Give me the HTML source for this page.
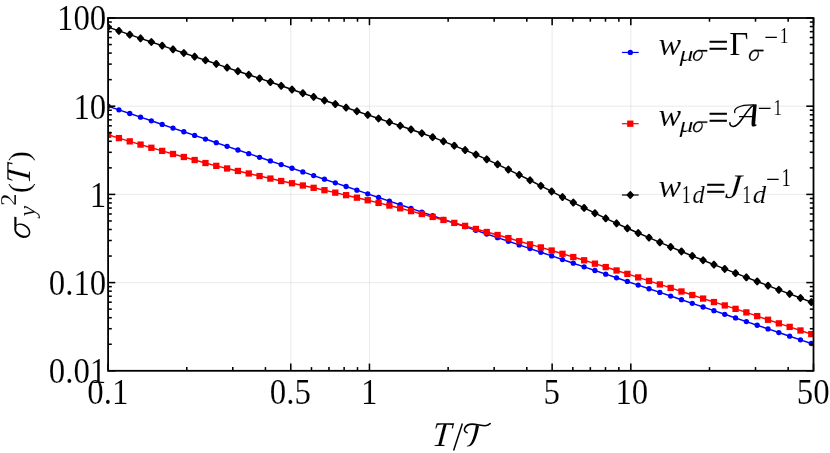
<!DOCTYPE html>
<html><head><meta charset="utf-8"><title>plot</title>
<style>html,body{margin:0;padding:0;background:#fff;}svg{display:block;}text{font-family:"Liberation Serif",serif;fill:#000;stroke:#fff;stroke-width:0.12px;}</style></head><body>
<svg width="830" height="453" viewBox="0 0 830 453" style="will-change:transform">
<defs><clipPath id="c"><rect x="108.1" y="18" width="705.4" height="352.8"/></clipPath></defs>
<g stroke="#808080" stroke-opacity="0.225" stroke-width="0.75" fill="none">
<line x1="290.78" y1="18" x2="290.78" y2="370.8"/>
<line x1="369.46" y1="18" x2="369.46" y2="370.8"/>
<line x1="552.14" y1="18" x2="552.14" y2="370.8"/>
<line x1="630.82" y1="18" x2="630.82" y2="370.8"/>
<line x1="108.1" y1="106.2" x2="813.5" y2="106.2"/>
<line x1="108.1" y1="194.4" x2="813.5" y2="194.4"/>
<line x1="108.1" y1="282.6" x2="813.5" y2="282.6"/>
</g>
<g clip-path="url(#c)"><polyline points="108.1,106.2 118.92,109.85 129.74,113.5 140.56,117.15 151.37,120.8 162.19,124.45 173.01,128.11 183.83,131.76 194.65,135.41 205.47,139.06 216.28,142.71 227.1,146.36 237.92,150.01 248.74,153.66 259.56,157.31 270.38,160.96 281.19,164.61 292.01,168.26 302.83,171.92 313.65,175.57 324.47,179.22 335.29,182.87 346.1,186.52 356.92,190.17 367.74,193.82 378.56,197.47 389.38,201.12 400.2,204.77 411.01,208.42 421.83,212.07 432.65,215.73 443.47,219.38 454.29,223.03 465.11,226.68 475.92,230.33 486.74,233.98 497.56,237.63 508.38,241.28 519.2,244.93 530.02,248.58 540.83,252.23 551.65,255.88 562.47,259.54 573.29,263.19 584.11,266.84 594.93,270.49 605.74,274.14 616.56,277.79 627.38,281.44 638.2,285.09 649.02,288.74 659.84,292.39 670.65,296.04 681.47,299.69 692.29,303.35 703.11,307 713.93,310.65 724.75,314.3 735.56,317.95 746.38,321.6 757.2,325.25 768.02,328.9 778.84,332.55 789.66,336.2 800.47,339.85 811.29,343.5" fill="none" stroke="#0000ff" stroke-width="1.45"/>
<circle cx="108.1" cy="106.2" r="2.65" fill="#0000ff"/>
<circle cx="118.92" cy="109.85" r="2.65" fill="#0000ff"/>
<circle cx="129.74" cy="113.5" r="2.65" fill="#0000ff"/>
<circle cx="140.56" cy="117.15" r="2.65" fill="#0000ff"/>
<circle cx="151.37" cy="120.8" r="2.65" fill="#0000ff"/>
<circle cx="162.19" cy="124.45" r="2.65" fill="#0000ff"/>
<circle cx="173.01" cy="128.11" r="2.65" fill="#0000ff"/>
<circle cx="183.83" cy="131.76" r="2.65" fill="#0000ff"/>
<circle cx="194.65" cy="135.41" r="2.65" fill="#0000ff"/>
<circle cx="205.47" cy="139.06" r="2.65" fill="#0000ff"/>
<circle cx="216.28" cy="142.71" r="2.65" fill="#0000ff"/>
<circle cx="227.1" cy="146.36" r="2.65" fill="#0000ff"/>
<circle cx="237.92" cy="150.01" r="2.65" fill="#0000ff"/>
<circle cx="248.74" cy="153.66" r="2.65" fill="#0000ff"/>
<circle cx="259.56" cy="157.31" r="2.65" fill="#0000ff"/>
<circle cx="270.38" cy="160.96" r="2.65" fill="#0000ff"/>
<circle cx="281.19" cy="164.61" r="2.65" fill="#0000ff"/>
<circle cx="292.01" cy="168.26" r="2.65" fill="#0000ff"/>
<circle cx="302.83" cy="171.92" r="2.65" fill="#0000ff"/>
<circle cx="313.65" cy="175.57" r="2.65" fill="#0000ff"/>
<circle cx="324.47" cy="179.22" r="2.65" fill="#0000ff"/>
<circle cx="335.29" cy="182.87" r="2.65" fill="#0000ff"/>
<circle cx="346.1" cy="186.52" r="2.65" fill="#0000ff"/>
<circle cx="356.92" cy="190.17" r="2.65" fill="#0000ff"/>
<circle cx="367.74" cy="193.82" r="2.65" fill="#0000ff"/>
<circle cx="378.56" cy="197.47" r="2.65" fill="#0000ff"/>
<circle cx="389.38" cy="201.12" r="2.65" fill="#0000ff"/>
<circle cx="400.2" cy="204.77" r="2.65" fill="#0000ff"/>
<circle cx="411.01" cy="208.42" r="2.65" fill="#0000ff"/>
<circle cx="421.83" cy="212.07" r="2.65" fill="#0000ff"/>
<circle cx="432.65" cy="215.73" r="2.65" fill="#0000ff"/>
<circle cx="443.47" cy="219.38" r="2.65" fill="#0000ff"/>
<circle cx="454.29" cy="223.03" r="2.65" fill="#0000ff"/>
<circle cx="465.11" cy="226.68" r="2.65" fill="#0000ff"/>
<circle cx="475.92" cy="230.33" r="2.65" fill="#0000ff"/>
<circle cx="486.74" cy="233.98" r="2.65" fill="#0000ff"/>
<circle cx="497.56" cy="237.63" r="2.65" fill="#0000ff"/>
<circle cx="508.38" cy="241.28" r="2.65" fill="#0000ff"/>
<circle cx="519.2" cy="244.93" r="2.65" fill="#0000ff"/>
<circle cx="530.02" cy="248.58" r="2.65" fill="#0000ff"/>
<circle cx="540.83" cy="252.23" r="2.65" fill="#0000ff"/>
<circle cx="551.65" cy="255.88" r="2.65" fill="#0000ff"/>
<circle cx="562.47" cy="259.54" r="2.65" fill="#0000ff"/>
<circle cx="573.29" cy="263.19" r="2.65" fill="#0000ff"/>
<circle cx="584.11" cy="266.84" r="2.65" fill="#0000ff"/>
<circle cx="594.93" cy="270.49" r="2.65" fill="#0000ff"/>
<circle cx="605.74" cy="274.14" r="2.65" fill="#0000ff"/>
<circle cx="616.56" cy="277.79" r="2.65" fill="#0000ff"/>
<circle cx="627.38" cy="281.44" r="2.65" fill="#0000ff"/>
<circle cx="638.2" cy="285.09" r="2.65" fill="#0000ff"/>
<circle cx="649.02" cy="288.74" r="2.65" fill="#0000ff"/>
<circle cx="659.84" cy="292.39" r="2.65" fill="#0000ff"/>
<circle cx="670.65" cy="296.04" r="2.65" fill="#0000ff"/>
<circle cx="681.47" cy="299.69" r="2.65" fill="#0000ff"/>
<circle cx="692.29" cy="303.35" r="2.65" fill="#0000ff"/>
<circle cx="703.11" cy="307" r="2.65" fill="#0000ff"/>
<circle cx="713.93" cy="310.65" r="2.65" fill="#0000ff"/>
<circle cx="724.75" cy="314.3" r="2.65" fill="#0000ff"/>
<circle cx="735.56" cy="317.95" r="2.65" fill="#0000ff"/>
<circle cx="746.38" cy="321.6" r="2.65" fill="#0000ff"/>
<circle cx="757.2" cy="325.25" r="2.65" fill="#0000ff"/>
<circle cx="768.02" cy="328.9" r="2.65" fill="#0000ff"/>
<circle cx="778.84" cy="332.55" r="2.65" fill="#0000ff"/>
<circle cx="789.66" cy="336.2" r="2.65" fill="#0000ff"/>
<circle cx="800.47" cy="339.85" r="2.65" fill="#0000ff"/>
<circle cx="811.29" cy="343.5" r="2.65" fill="#0000ff"/>
</g>
<g clip-path="url(#c)"><polyline points="108.1,134.8 118.92,138.1 129.74,141.38 140.56,144.6 151.37,147.78 162.19,150.9 173.01,153.97 183.83,157 194.65,160.03 205.47,163.03 216.28,165.85 227.1,168.45 237.92,170.95 248.74,173.47 259.56,176.03 270.38,178.58 281.19,181 292.01,183.25 302.83,185.5 313.65,187.82 324.47,190.2 335.29,192.65 346.1,195.18 356.92,197.67 367.74,200.22 378.56,202.9 389.38,205.55 400.2,208.27 411.01,211.12 421.83,214 432.65,216.97 443.47,219.97 454.29,222.9 465.11,225.88 475.92,228.95 486.74,232 497.56,235.01 508.38,238.07 519.2,241.21 530.02,244.35 540.83,247.4 551.65,250.53 562.47,253.8 573.29,257.05 584.11,260.3 594.93,263.65 605.74,267.06 616.56,270.48 627.38,273.89 638.2,277.38 649.02,280.92 659.84,284.42 670.65,287.92 681.47,291.48 692.29,295.02 703.11,298.58 713.93,302.05 724.75,305.43 735.56,308.85 746.38,312.42 757.2,316.1 768.02,319.77 778.84,323.35 789.66,326.88 800.47,330.48 811.29,334.1" fill="none" stroke="#ff0000" stroke-width="1.45"/>
<rect x="104.95" y="131.65" width="6.3" height="6.3" fill="#ff0000"/>
<rect x="115.77" y="134.95" width="6.3" height="6.3" fill="#ff0000"/>
<rect x="126.59" y="138.22" width="6.3" height="6.3" fill="#ff0000"/>
<rect x="137.41" y="141.45" width="6.3" height="6.3" fill="#ff0000"/>
<rect x="148.22" y="144.62" width="6.3" height="6.3" fill="#ff0000"/>
<rect x="159.04" y="147.75" width="6.3" height="6.3" fill="#ff0000"/>
<rect x="169.86" y="150.82" width="6.3" height="6.3" fill="#ff0000"/>
<rect x="180.68" y="153.85" width="6.3" height="6.3" fill="#ff0000"/>
<rect x="191.5" y="156.88" width="6.3" height="6.3" fill="#ff0000"/>
<rect x="202.32" y="159.88" width="6.3" height="6.3" fill="#ff0000"/>
<rect x="213.13" y="162.7" width="6.3" height="6.3" fill="#ff0000"/>
<rect x="223.95" y="165.3" width="6.3" height="6.3" fill="#ff0000"/>
<rect x="234.77" y="167.8" width="6.3" height="6.3" fill="#ff0000"/>
<rect x="245.59" y="170.32" width="6.3" height="6.3" fill="#ff0000"/>
<rect x="256.41" y="172.88" width="6.3" height="6.3" fill="#ff0000"/>
<rect x="267.23" y="175.43" width="6.3" height="6.3" fill="#ff0000"/>
<rect x="278.04" y="177.85" width="6.3" height="6.3" fill="#ff0000"/>
<rect x="288.86" y="180.1" width="6.3" height="6.3" fill="#ff0000"/>
<rect x="299.68" y="182.35" width="6.3" height="6.3" fill="#ff0000"/>
<rect x="310.5" y="184.67" width="6.3" height="6.3" fill="#ff0000"/>
<rect x="321.32" y="187.05" width="6.3" height="6.3" fill="#ff0000"/>
<rect x="332.14" y="189.5" width="6.3" height="6.3" fill="#ff0000"/>
<rect x="342.95" y="192.03" width="6.3" height="6.3" fill="#ff0000"/>
<rect x="353.77" y="194.52" width="6.3" height="6.3" fill="#ff0000"/>
<rect x="364.59" y="197.07" width="6.3" height="6.3" fill="#ff0000"/>
<rect x="375.41" y="199.75" width="6.3" height="6.3" fill="#ff0000"/>
<rect x="386.23" y="202.4" width="6.3" height="6.3" fill="#ff0000"/>
<rect x="397.05" y="205.12" width="6.3" height="6.3" fill="#ff0000"/>
<rect x="407.86" y="207.97" width="6.3" height="6.3" fill="#ff0000"/>
<rect x="418.68" y="210.85" width="6.3" height="6.3" fill="#ff0000"/>
<rect x="429.5" y="213.82" width="6.3" height="6.3" fill="#ff0000"/>
<rect x="440.32" y="216.82" width="6.3" height="6.3" fill="#ff0000"/>
<rect x="451.14" y="219.75" width="6.3" height="6.3" fill="#ff0000"/>
<rect x="461.96" y="222.72" width="6.3" height="6.3" fill="#ff0000"/>
<rect x="472.77" y="225.8" width="6.3" height="6.3" fill="#ff0000"/>
<rect x="483.59" y="228.85" width="6.3" height="6.3" fill="#ff0000"/>
<rect x="494.41" y="231.86" width="6.3" height="6.3" fill="#ff0000"/>
<rect x="505.23" y="234.92" width="6.3" height="6.3" fill="#ff0000"/>
<rect x="516.05" y="238.06" width="6.3" height="6.3" fill="#ff0000"/>
<rect x="526.87" y="241.2" width="6.3" height="6.3" fill="#ff0000"/>
<rect x="537.68" y="244.25" width="6.3" height="6.3" fill="#ff0000"/>
<rect x="548.5" y="247.38" width="6.3" height="6.3" fill="#ff0000"/>
<rect x="559.32" y="250.65" width="6.3" height="6.3" fill="#ff0000"/>
<rect x="570.14" y="253.9" width="6.3" height="6.3" fill="#ff0000"/>
<rect x="580.96" y="257.15" width="6.3" height="6.3" fill="#ff0000"/>
<rect x="591.78" y="260.5" width="6.3" height="6.3" fill="#ff0000"/>
<rect x="602.59" y="263.91" width="6.3" height="6.3" fill="#ff0000"/>
<rect x="613.41" y="267.33" width="6.3" height="6.3" fill="#ff0000"/>
<rect x="624.23" y="270.74" width="6.3" height="6.3" fill="#ff0000"/>
<rect x="635.05" y="274.23" width="6.3" height="6.3" fill="#ff0000"/>
<rect x="645.87" y="277.77" width="6.3" height="6.3" fill="#ff0000"/>
<rect x="656.69" y="281.27" width="6.3" height="6.3" fill="#ff0000"/>
<rect x="667.5" y="284.77" width="6.3" height="6.3" fill="#ff0000"/>
<rect x="678.32" y="288.33" width="6.3" height="6.3" fill="#ff0000"/>
<rect x="689.14" y="291.88" width="6.3" height="6.3" fill="#ff0000"/>
<rect x="699.96" y="295.43" width="6.3" height="6.3" fill="#ff0000"/>
<rect x="710.78" y="298.9" width="6.3" height="6.3" fill="#ff0000"/>
<rect x="721.6" y="302.28" width="6.3" height="6.3" fill="#ff0000"/>
<rect x="732.41" y="305.7" width="6.3" height="6.3" fill="#ff0000"/>
<rect x="743.23" y="309.27" width="6.3" height="6.3" fill="#ff0000"/>
<rect x="754.05" y="312.95" width="6.3" height="6.3" fill="#ff0000"/>
<rect x="764.87" y="316.62" width="6.3" height="6.3" fill="#ff0000"/>
<rect x="775.69" y="320.2" width="6.3" height="6.3" fill="#ff0000"/>
<rect x="786.51" y="323.73" width="6.3" height="6.3" fill="#ff0000"/>
<rect x="797.32" y="327.33" width="6.3" height="6.3" fill="#ff0000"/>
<rect x="808.14" y="330.95" width="6.3" height="6.3" fill="#ff0000"/>
</g>
<g clip-path="url(#c)"><polyline points="108.1,27.1 118.92,30.9 129.74,34.68 140.56,38.38 151.37,42 162.19,45.65 173.01,49.35 183.83,53 194.65,56.62 205.47,60.27 216.28,63.92 227.1,67.58 237.92,71.2 248.74,74.8 259.56,78.4 270.38,82.05 281.19,85.8 292.01,89.55 302.83,93.22 313.65,96.88 324.47,100.47 335.29,104.03 346.1,107.61 356.92,111.25 367.74,114.89 378.56,118.5 389.38,122.1 400.2,125.75 411.01,129.47 421.83,133.25 432.65,137.18 443.47,141.35 454.29,145.68 465.11,150.05 475.92,154.57 486.74,159.32 497.56,164.3 508.38,169.53 519.2,174.88 530.02,180.27 540.83,185.82 551.65,191.47 562.47,197.05 573.29,202.53 584.11,207.93 594.93,213.2 605.74,218.35 616.56,223.38 627.38,228.28 638.2,233.03 649.02,237.65 659.84,242.3 670.65,246.95 681.47,251.47 692.29,255.9 703.11,260.27 713.93,264.62 724.75,268.95 735.56,273.19 746.38,277.34 757.2,281.46 768.02,285.64 778.84,289.82 789.66,293.92 800.47,298 811.29,302.1" fill="none" stroke="#000000" stroke-width="1.45"/>
<path d="M105.5 27.1L108.1 24.2L110.7 27.1L108.1 30Z" fill="#000000" stroke="#000000" stroke-width="2.1" stroke-linejoin="round"/>
<path d="M116.32 30.9L118.92 28L121.52 30.9L118.92 33.8Z" fill="#000000" stroke="#000000" stroke-width="2.1" stroke-linejoin="round"/>
<path d="M127.14 34.68L129.74 31.78L132.34 34.68L129.74 37.58Z" fill="#000000" stroke="#000000" stroke-width="2.1" stroke-linejoin="round"/>
<path d="M137.96 38.38L140.56 35.48L143.16 38.38L140.56 41.27Z" fill="#000000" stroke="#000000" stroke-width="2.1" stroke-linejoin="round"/>
<path d="M148.77 42L151.37 39.1L153.97 42L151.37 44.9Z" fill="#000000" stroke="#000000" stroke-width="2.1" stroke-linejoin="round"/>
<path d="M159.59 45.65L162.19 42.75L164.79 45.65L162.19 48.55Z" fill="#000000" stroke="#000000" stroke-width="2.1" stroke-linejoin="round"/>
<path d="M170.41 49.35L173.01 46.45L175.61 49.35L173.01 52.25Z" fill="#000000" stroke="#000000" stroke-width="2.1" stroke-linejoin="round"/>
<path d="M181.23 53L183.83 50.1L186.43 53L183.83 55.9Z" fill="#000000" stroke="#000000" stroke-width="2.1" stroke-linejoin="round"/>
<path d="M192.05 56.62L194.65 53.73L197.25 56.62L194.65 59.52Z" fill="#000000" stroke="#000000" stroke-width="2.1" stroke-linejoin="round"/>
<path d="M202.87 60.27L205.47 57.38L208.07 60.27L205.47 63.17Z" fill="#000000" stroke="#000000" stroke-width="2.1" stroke-linejoin="round"/>
<path d="M213.68 63.92L216.28 61.02L218.88 63.92L216.28 66.83Z" fill="#000000" stroke="#000000" stroke-width="2.1" stroke-linejoin="round"/>
<path d="M224.5 67.58L227.1 64.67L229.7 67.58L227.1 70.48Z" fill="#000000" stroke="#000000" stroke-width="2.1" stroke-linejoin="round"/>
<path d="M235.32 71.2L237.92 68.3L240.52 71.2L237.92 74.1Z" fill="#000000" stroke="#000000" stroke-width="2.1" stroke-linejoin="round"/>
<path d="M246.14 74.8L248.74 71.9L251.34 74.8L248.74 77.7Z" fill="#000000" stroke="#000000" stroke-width="2.1" stroke-linejoin="round"/>
<path d="M256.96 78.4L259.56 75.5L262.16 78.4L259.56 81.3Z" fill="#000000" stroke="#000000" stroke-width="2.1" stroke-linejoin="round"/>
<path d="M267.78 82.05L270.38 79.15L272.98 82.05L270.38 84.95Z" fill="#000000" stroke="#000000" stroke-width="2.1" stroke-linejoin="round"/>
<path d="M278.59 85.8L281.19 82.9L283.79 85.8L281.19 88.7Z" fill="#000000" stroke="#000000" stroke-width="2.1" stroke-linejoin="round"/>
<path d="M289.41 89.55L292.01 86.65L294.61 89.55L292.01 92.45Z" fill="#000000" stroke="#000000" stroke-width="2.1" stroke-linejoin="round"/>
<path d="M300.23 93.22L302.83 90.32L305.43 93.22L302.83 96.12Z" fill="#000000" stroke="#000000" stroke-width="2.1" stroke-linejoin="round"/>
<path d="M311.05 96.88L313.65 93.97L316.25 96.88L313.65 99.78Z" fill="#000000" stroke="#000000" stroke-width="2.1" stroke-linejoin="round"/>
<path d="M321.87 100.47L324.47 97.57L327.07 100.47L324.47 103.38Z" fill="#000000" stroke="#000000" stroke-width="2.1" stroke-linejoin="round"/>
<path d="M332.69 104.03L335.29 101.12L337.89 104.03L335.29 106.93Z" fill="#000000" stroke="#000000" stroke-width="2.1" stroke-linejoin="round"/>
<path d="M343.5 107.61L346.1 104.71L348.7 107.61L346.1 110.51Z" fill="#000000" stroke="#000000" stroke-width="2.1" stroke-linejoin="round"/>
<path d="M354.32 111.25L356.92 108.35L359.52 111.25L356.92 114.15Z" fill="#000000" stroke="#000000" stroke-width="2.1" stroke-linejoin="round"/>
<path d="M365.14 114.89L367.74 111.99L370.34 114.89L367.74 117.79Z" fill="#000000" stroke="#000000" stroke-width="2.1" stroke-linejoin="round"/>
<path d="M375.96 118.5L378.56 115.6L381.16 118.5L378.56 121.4Z" fill="#000000" stroke="#000000" stroke-width="2.1" stroke-linejoin="round"/>
<path d="M386.78 122.1L389.38 119.2L391.98 122.1L389.38 125Z" fill="#000000" stroke="#000000" stroke-width="2.1" stroke-linejoin="round"/>
<path d="M397.6 125.75L400.2 122.85L402.8 125.75L400.2 128.65Z" fill="#000000" stroke="#000000" stroke-width="2.1" stroke-linejoin="round"/>
<path d="M408.41 129.47L411.01 126.57L413.61 129.47L411.01 132.38Z" fill="#000000" stroke="#000000" stroke-width="2.1" stroke-linejoin="round"/>
<path d="M419.23 133.25L421.83 130.35L424.43 133.25L421.83 136.15Z" fill="#000000" stroke="#000000" stroke-width="2.1" stroke-linejoin="round"/>
<path d="M430.05 137.18L432.65 134.28L435.25 137.18L432.65 140.08Z" fill="#000000" stroke="#000000" stroke-width="2.1" stroke-linejoin="round"/>
<path d="M440.87 141.35L443.47 138.45L446.07 141.35L443.47 144.25Z" fill="#000000" stroke="#000000" stroke-width="2.1" stroke-linejoin="round"/>
<path d="M451.69 145.68L454.29 142.78L456.89 145.68L454.29 148.58Z" fill="#000000" stroke="#000000" stroke-width="2.1" stroke-linejoin="round"/>
<path d="M462.51 150.05L465.11 147.15L467.71 150.05L465.11 152.95Z" fill="#000000" stroke="#000000" stroke-width="2.1" stroke-linejoin="round"/>
<path d="M473.32 154.57L475.92 151.67L478.52 154.57L475.92 157.47Z" fill="#000000" stroke="#000000" stroke-width="2.1" stroke-linejoin="round"/>
<path d="M484.14 159.32L486.74 156.42L489.34 159.32L486.74 162.22Z" fill="#000000" stroke="#000000" stroke-width="2.1" stroke-linejoin="round"/>
<path d="M494.96 164.3L497.56 161.4L500.16 164.3L497.56 167.2Z" fill="#000000" stroke="#000000" stroke-width="2.1" stroke-linejoin="round"/>
<path d="M505.78 169.53L508.38 166.62L510.98 169.53L508.38 172.43Z" fill="#000000" stroke="#000000" stroke-width="2.1" stroke-linejoin="round"/>
<path d="M516.6 174.88L519.2 171.97L521.8 174.88L519.2 177.78Z" fill="#000000" stroke="#000000" stroke-width="2.1" stroke-linejoin="round"/>
<path d="M527.42 180.27L530.02 177.37L532.62 180.27L530.02 183.17Z" fill="#000000" stroke="#000000" stroke-width="2.1" stroke-linejoin="round"/>
<path d="M538.23 185.82L540.83 182.92L543.43 185.82L540.83 188.72Z" fill="#000000" stroke="#000000" stroke-width="2.1" stroke-linejoin="round"/>
<path d="M549.05 191.47L551.65 188.57L554.25 191.47L551.65 194.38Z" fill="#000000" stroke="#000000" stroke-width="2.1" stroke-linejoin="round"/>
<path d="M559.87 197.05L562.47 194.15L565.07 197.05L562.47 199.95Z" fill="#000000" stroke="#000000" stroke-width="2.1" stroke-linejoin="round"/>
<path d="M570.69 202.53L573.29 199.62L575.89 202.53L573.29 205.43Z" fill="#000000" stroke="#000000" stroke-width="2.1" stroke-linejoin="round"/>
<path d="M581.51 207.93L584.11 205.03L586.71 207.93L584.11 210.83Z" fill="#000000" stroke="#000000" stroke-width="2.1" stroke-linejoin="round"/>
<path d="M592.33 213.2L594.93 210.3L597.53 213.2L594.93 216.1Z" fill="#000000" stroke="#000000" stroke-width="2.1" stroke-linejoin="round"/>
<path d="M603.14 218.35L605.74 215.45L608.34 218.35L605.74 221.25Z" fill="#000000" stroke="#000000" stroke-width="2.1" stroke-linejoin="round"/>
<path d="M613.96 223.38L616.56 220.47L619.16 223.38L616.56 226.28Z" fill="#000000" stroke="#000000" stroke-width="2.1" stroke-linejoin="round"/>
<path d="M624.78 228.28L627.38 225.38L629.98 228.28L627.38 231.18Z" fill="#000000" stroke="#000000" stroke-width="2.1" stroke-linejoin="round"/>
<path d="M635.6 233.03L638.2 230.12L640.8 233.03L638.2 235.93Z" fill="#000000" stroke="#000000" stroke-width="2.1" stroke-linejoin="round"/>
<path d="M646.42 237.65L649.02 234.75L651.62 237.65L649.02 240.55Z" fill="#000000" stroke="#000000" stroke-width="2.1" stroke-linejoin="round"/>
<path d="M657.24 242.3L659.84 239.4L662.44 242.3L659.84 245.2Z" fill="#000000" stroke="#000000" stroke-width="2.1" stroke-linejoin="round"/>
<path d="M668.05 246.95L670.65 244.05L673.25 246.95L670.65 249.85Z" fill="#000000" stroke="#000000" stroke-width="2.1" stroke-linejoin="round"/>
<path d="M678.87 251.47L681.47 248.57L684.07 251.47L681.47 254.38Z" fill="#000000" stroke="#000000" stroke-width="2.1" stroke-linejoin="round"/>
<path d="M689.69 255.9L692.29 253L694.89 255.9L692.29 258.8Z" fill="#000000" stroke="#000000" stroke-width="2.1" stroke-linejoin="round"/>
<path d="M700.51 260.27L703.11 257.38L705.71 260.27L703.11 263.17Z" fill="#000000" stroke="#000000" stroke-width="2.1" stroke-linejoin="round"/>
<path d="M711.33 264.62L713.93 261.73L716.53 264.62L713.93 267.52Z" fill="#000000" stroke="#000000" stroke-width="2.1" stroke-linejoin="round"/>
<path d="M722.15 268.95L724.75 266.05L727.35 268.95L724.75 271.85Z" fill="#000000" stroke="#000000" stroke-width="2.1" stroke-linejoin="round"/>
<path d="M732.96 273.19L735.56 270.29L738.16 273.19L735.56 276.09Z" fill="#000000" stroke="#000000" stroke-width="2.1" stroke-linejoin="round"/>
<path d="M743.78 277.34L746.38 274.44L748.98 277.34L746.38 280.24Z" fill="#000000" stroke="#000000" stroke-width="2.1" stroke-linejoin="round"/>
<path d="M754.6 281.46L757.2 278.56L759.8 281.46L757.2 284.36Z" fill="#000000" stroke="#000000" stroke-width="2.1" stroke-linejoin="round"/>
<path d="M765.42 285.64L768.02 282.74L770.62 285.64L768.02 288.54Z" fill="#000000" stroke="#000000" stroke-width="2.1" stroke-linejoin="round"/>
<path d="M776.24 289.82L778.84 286.93L781.44 289.82L778.84 292.72Z" fill="#000000" stroke="#000000" stroke-width="2.1" stroke-linejoin="round"/>
<path d="M787.06 293.92L789.66 291.02L792.26 293.92L789.66 296.82Z" fill="#000000" stroke="#000000" stroke-width="2.1" stroke-linejoin="round"/>
<path d="M797.87 298L800.47 295.1L803.07 298L800.47 300.9Z" fill="#000000" stroke="#000000" stroke-width="2.1" stroke-linejoin="round"/>
<path d="M808.69 302.1L811.29 299.2L813.89 302.1L811.29 305Z" fill="#000000" stroke="#000000" stroke-width="2.1" stroke-linejoin="round"/>
</g>
<g stroke="#000" stroke-width="1.55" fill="none">
<line x1="108.1" y1="370.8" x2="108.1" y2="363.6"/>
<line x1="108.1" y1="18" x2="108.1" y2="25.2"/>
<line x1="290.78" y1="370.8" x2="290.78" y2="363.6"/>
<line x1="290.78" y1="18" x2="290.78" y2="25.2"/>
<line x1="369.46" y1="370.8" x2="369.46" y2="363.6"/>
<line x1="369.46" y1="18" x2="369.46" y2="25.2"/>
<line x1="552.14" y1="370.8" x2="552.14" y2="363.6"/>
<line x1="552.14" y1="18" x2="552.14" y2="25.2"/>
<line x1="630.82" y1="370.8" x2="630.82" y2="363.6"/>
<line x1="630.82" y1="18" x2="630.82" y2="25.2"/>
<line x1="813.5" y1="370.8" x2="813.5" y2="363.6"/>
<line x1="813.5" y1="18" x2="813.5" y2="25.2"/>
<line x1="186.78" y1="370.8" x2="186.78" y2="367.1"/>
<line x1="186.78" y1="18" x2="186.78" y2="21.7"/>
<line x1="232.8" y1="370.8" x2="232.8" y2="367.1"/>
<line x1="232.8" y1="18" x2="232.8" y2="21.7"/>
<line x1="265.45" y1="370.8" x2="265.45" y2="367.1"/>
<line x1="265.45" y1="18" x2="265.45" y2="21.7"/>
<line x1="311.48" y1="370.8" x2="311.48" y2="367.1"/>
<line x1="311.48" y1="18" x2="311.48" y2="21.7"/>
<line x1="328.97" y1="370.8" x2="328.97" y2="367.1"/>
<line x1="328.97" y1="18" x2="328.97" y2="21.7"/>
<line x1="344.13" y1="370.8" x2="344.13" y2="367.1"/>
<line x1="344.13" y1="18" x2="344.13" y2="21.7"/>
<line x1="357.5" y1="370.8" x2="357.5" y2="367.1"/>
<line x1="357.5" y1="18" x2="357.5" y2="21.7"/>
<line x1="448.14" y1="370.8" x2="448.14" y2="367.1"/>
<line x1="448.14" y1="18" x2="448.14" y2="21.7"/>
<line x1="494.16" y1="370.8" x2="494.16" y2="367.1"/>
<line x1="494.16" y1="18" x2="494.16" y2="21.7"/>
<line x1="526.81" y1="370.8" x2="526.81" y2="367.1"/>
<line x1="526.81" y1="18" x2="526.81" y2="21.7"/>
<line x1="572.84" y1="370.8" x2="572.84" y2="367.1"/>
<line x1="572.84" y1="18" x2="572.84" y2="21.7"/>
<line x1="590.33" y1="370.8" x2="590.33" y2="367.1"/>
<line x1="590.33" y1="18" x2="590.33" y2="21.7"/>
<line x1="605.49" y1="370.8" x2="605.49" y2="367.1"/>
<line x1="605.49" y1="18" x2="605.49" y2="21.7"/>
<line x1="618.86" y1="370.8" x2="618.86" y2="367.1"/>
<line x1="618.86" y1="18" x2="618.86" y2="21.7"/>
<line x1="709.49" y1="370.8" x2="709.49" y2="367.1"/>
<line x1="709.49" y1="18" x2="709.49" y2="21.7"/>
<line x1="755.52" y1="370.8" x2="755.52" y2="367.1"/>
<line x1="755.52" y1="18" x2="755.52" y2="21.7"/>
<line x1="788.17" y1="370.8" x2="788.17" y2="367.1"/>
<line x1="788.17" y1="18" x2="788.17" y2="21.7"/>
<line x1="108.1" y1="370.8" x2="115.3" y2="370.8"/>
<line x1="813.5" y1="370.8" x2="806.3" y2="370.8"/>
<line x1="108.1" y1="344.25" x2="111.8" y2="344.25"/>
<line x1="813.5" y1="344.25" x2="809.8" y2="344.25"/>
<line x1="108.1" y1="328.72" x2="111.8" y2="328.72"/>
<line x1="813.5" y1="328.72" x2="809.8" y2="328.72"/>
<line x1="108.1" y1="317.7" x2="111.8" y2="317.7"/>
<line x1="813.5" y1="317.7" x2="809.8" y2="317.7"/>
<line x1="108.1" y1="309.15" x2="111.8" y2="309.15"/>
<line x1="813.5" y1="309.15" x2="809.8" y2="309.15"/>
<line x1="108.1" y1="302.17" x2="111.8" y2="302.17"/>
<line x1="813.5" y1="302.17" x2="809.8" y2="302.17"/>
<line x1="108.1" y1="296.26" x2="111.8" y2="296.26"/>
<line x1="813.5" y1="296.26" x2="809.8" y2="296.26"/>
<line x1="108.1" y1="291.15" x2="111.8" y2="291.15"/>
<line x1="813.5" y1="291.15" x2="809.8" y2="291.15"/>
<line x1="108.1" y1="286.64" x2="111.8" y2="286.64"/>
<line x1="813.5" y1="286.64" x2="809.8" y2="286.64"/>
<line x1="108.1" y1="282.6" x2="115.3" y2="282.6"/>
<line x1="813.5" y1="282.6" x2="806.3" y2="282.6"/>
<line x1="108.1" y1="256.05" x2="111.8" y2="256.05"/>
<line x1="813.5" y1="256.05" x2="809.8" y2="256.05"/>
<line x1="108.1" y1="240.52" x2="111.8" y2="240.52"/>
<line x1="813.5" y1="240.52" x2="809.8" y2="240.52"/>
<line x1="108.1" y1="229.5" x2="111.8" y2="229.5"/>
<line x1="813.5" y1="229.5" x2="809.8" y2="229.5"/>
<line x1="108.1" y1="220.95" x2="111.8" y2="220.95"/>
<line x1="813.5" y1="220.95" x2="809.8" y2="220.95"/>
<line x1="108.1" y1="213.97" x2="111.8" y2="213.97"/>
<line x1="813.5" y1="213.97" x2="809.8" y2="213.97"/>
<line x1="108.1" y1="208.06" x2="111.8" y2="208.06"/>
<line x1="813.5" y1="208.06" x2="809.8" y2="208.06"/>
<line x1="108.1" y1="202.95" x2="111.8" y2="202.95"/>
<line x1="813.5" y1="202.95" x2="809.8" y2="202.95"/>
<line x1="108.1" y1="198.44" x2="111.8" y2="198.44"/>
<line x1="813.5" y1="198.44" x2="809.8" y2="198.44"/>
<line x1="108.1" y1="194.4" x2="115.3" y2="194.4"/>
<line x1="813.5" y1="194.4" x2="806.3" y2="194.4"/>
<line x1="108.1" y1="167.85" x2="111.8" y2="167.85"/>
<line x1="813.5" y1="167.85" x2="809.8" y2="167.85"/>
<line x1="108.1" y1="152.32" x2="111.8" y2="152.32"/>
<line x1="813.5" y1="152.32" x2="809.8" y2="152.32"/>
<line x1="108.1" y1="141.3" x2="111.8" y2="141.3"/>
<line x1="813.5" y1="141.3" x2="809.8" y2="141.3"/>
<line x1="108.1" y1="132.75" x2="111.8" y2="132.75"/>
<line x1="813.5" y1="132.75" x2="809.8" y2="132.75"/>
<line x1="108.1" y1="125.77" x2="111.8" y2="125.77"/>
<line x1="813.5" y1="125.77" x2="809.8" y2="125.77"/>
<line x1="108.1" y1="119.86" x2="111.8" y2="119.86"/>
<line x1="813.5" y1="119.86" x2="809.8" y2="119.86"/>
<line x1="108.1" y1="114.75" x2="111.8" y2="114.75"/>
<line x1="813.5" y1="114.75" x2="809.8" y2="114.75"/>
<line x1="108.1" y1="110.24" x2="111.8" y2="110.24"/>
<line x1="813.5" y1="110.24" x2="809.8" y2="110.24"/>
<line x1="108.1" y1="106.2" x2="115.3" y2="106.2"/>
<line x1="813.5" y1="106.2" x2="806.3" y2="106.2"/>
<line x1="108.1" y1="79.65" x2="111.8" y2="79.65"/>
<line x1="813.5" y1="79.65" x2="809.8" y2="79.65"/>
<line x1="108.1" y1="64.12" x2="111.8" y2="64.12"/>
<line x1="813.5" y1="64.12" x2="809.8" y2="64.12"/>
<line x1="108.1" y1="53.1" x2="111.8" y2="53.1"/>
<line x1="813.5" y1="53.1" x2="809.8" y2="53.1"/>
<line x1="108.1" y1="44.55" x2="111.8" y2="44.55"/>
<line x1="813.5" y1="44.55" x2="809.8" y2="44.55"/>
<line x1="108.1" y1="37.57" x2="111.8" y2="37.57"/>
<line x1="813.5" y1="37.57" x2="809.8" y2="37.57"/>
<line x1="108.1" y1="31.66" x2="111.8" y2="31.66"/>
<line x1="813.5" y1="31.66" x2="809.8" y2="31.66"/>
<line x1="108.1" y1="26.55" x2="111.8" y2="26.55"/>
<line x1="813.5" y1="26.55" x2="809.8" y2="26.55"/>
<line x1="108.1" y1="22.04" x2="111.8" y2="22.04"/>
<line x1="813.5" y1="22.04" x2="809.8" y2="22.04"/>
<line x1="108.1" y1="18" x2="115.3" y2="18"/>
<line x1="813.5" y1="18" x2="806.3" y2="18"/>
</g>
<rect x="108.1" y="18" width="705.4" height="352.8" fill="none" stroke="#000" stroke-width="1.8"/>
<g font-size="33.4" stroke-width="0.1">
<text transform="translate(106.3,30.35) scale(0.985,1.045)" text-anchor="end">100</text>
<text transform="translate(106.3,118.55) scale(0.985,1.045)" text-anchor="end">10</text>
<text transform="translate(106.3,206.75) scale(0.985,1.045)" text-anchor="end">1</text>
<text transform="translate(106.3,294.95) scale(0.985,1.045)" text-anchor="end">0.10</text>
<text transform="translate(106.3,383.15) scale(0.985,1.045)" text-anchor="end">0.01</text>
<text transform="translate(87.3,404.1) scale(0.985,1.045)">0.1</text>
<text transform="translate(269.75,404.1) scale(0.985,1.045)">0.5</text>
<text transform="translate(361.05,404.1) scale(0.985,1.045)">1</text>
<text transform="translate(543.5,404.1) scale(0.985,1.045)">5</text>
<text transform="translate(615.4,404.1) scale(0.985,1.045)">10</text>
<text transform="translate(796.7,404.1) scale(0.985,1.045)">50</text>
</g>
<text transform="translate(431.6,445.5) skewX(-5) scale(1.0,1.03)" font-size="33.8" font-style="italic">T</text>
<line x1="453.6" y1="450.4" x2="462.4" y2="423.6" stroke="#000" stroke-width="1.5"/>
<g id="scriptT" transform="translate(463.2,423.4)"><path d="M3.9 9.3C1.6 8.8 0.7 6.8 1.6 4.7C2.8 2.1 5.6 0.7 9 0.7C13.5 0.7 18 2.3 22 2.3C24.5 2.3 26 1.4 27 0.2" fill="none" stroke="#000" stroke-width="1.6" stroke-linecap="round"/><path d="M12.7 1.6L15.8 2.3C14.8 8.5 13.2 14.2 10.9 18.6C9.3 21.6 6.9 23.2 3.8 23.2L3.5 22.5C5.4 22.2 6.8 21 8 19C10.3 14.6 11.9 8 12.7 1.6Z" fill="#000"/></g>
<g id="ylabel" transform="translate(30,238) rotate(-90)">
<path transform="translate(0,0.2) scale(1.0250)" d="M12.53 -4.31L11.77 -3.25L10.90 -2.30L9.94 -1.48L8.91 -0.82L7.83 -0.32L6.73 -0.01L5.65 0.11L4.59 0.04L3.60 -0.22L2.70 -0.66L1.91 -1.28L1.24 -2.05L0.72 -2.97L0.35 -4.00L0.15 -5.12L0.12 -6.31L0.27 -7.53L0.58 -8.75L1.05 -9.95L1.67 -11.09L2.43 -12.15L3.30 -13.10L4.26 -13.92L5.29 -14.58L6.37 -15.08L7.47 -15.39L8.55 -15.51L9.61 -15.44L10.60 -15.18L11.50 -14.74L12.29 -14.12L12.96 -13.35L13.48 -12.43L13.85 -11.40L14.05 -10.28L14.08 -9.09L13.93 -7.87L13.62 -6.65L13.15 -5.45ZM11.32 -5.42L11.86 -6.39L12.29 -7.39L12.61 -8.41L12.80 -9.41L12.86 -10.37L12.79 -11.27L12.58 -12.08L12.26 -12.79L11.81 -13.37L11.26 -13.82L10.62 -14.12L9.90 -14.26L9.12 -14.25L8.30 -14.07L7.46 -13.74L6.62 -13.27L5.81 -12.66L5.03 -11.93L4.32 -11.10L3.68 -10.18L3.14 -9.21L2.71 -8.21L2.39 -7.19L2.20 -6.19L2.14 -5.23L2.21 -4.33L2.42 -3.52L2.74 -2.81L3.19 -2.23L3.74 -1.78L4.38 -1.48L5.10 -1.34L5.88 -1.35L6.70 -1.53L7.54 -1.86L8.38 -2.33L9.19 -2.94L9.97 -3.67L10.68 -4.50ZM7.6 -15.5L20.8 -15.5L20.6 -13.4L11.5 -13.4L7.6 -13.6Z" fill="#000" fill-rule="nonzero"/>
<text transform="translate(21.52,5.05) scale(1.0022,0.9739)" font-size="24" font-style="italic" stroke-width="0.06">y</text>
<text transform="translate(32.33,-13.6) scale(1.0275,1.0113)" font-size="23.6" stroke-width="0.06">2</text>
<text transform="translate(44.84,-1.19) scale(0.9130,0.8915)" font-size="33.8">(</text>
<text transform="translate(53.4,0.1) skewX(-5) scale(1.0,1.0314)" font-size="33.8" font-style="italic">T</text>
<text transform="translate(76.82,-1.19) scale(0.9059,0.8915)" font-size="33.8">)</text>
</g>
<line x1="621.9" y1="52.45" x2="638.7" y2="52.45" stroke="#0000ff" stroke-width="1.2"/>
<circle cx="630.3" cy="52.45" r="2.65" fill="#0000ff"/>
<line x1="621.9" y1="123.7" x2="638.7" y2="123.7" stroke="#ff0000" stroke-width="1.2"/>
<rect x="627.15" y="120.55" width="6.3" height="6.3" fill="#ff0000"/>
<line x1="621.9" y1="195" x2="638.7" y2="195" stroke="#000000" stroke-width="1.2"/>
<path d="M627.7 195L630.3 192.1L632.9 195L630.3 197.9Z" fill="#000000" stroke="#000000" stroke-width="2.1" stroke-linejoin="round"/>
<g id="leg1">
<text transform="translate(658.48,54.93) scale(1.0108,0.9593)" font-size="33.6" font-style="italic">w</text>
<text transform="translate(707.88,57.32) scale(1.0857,0.9762)" font-size="33.6" style="stroke:#000;stroke-width:0.3px">=</text>
<text transform="translate(679.4,60.52) scale(1.1861,0.8864)" font-size="23.6" font-style="italic" stroke-width="0.06">μ</text>
<path transform="translate(692.9,60.7) scale(0.6900)" d="M12.53 -4.31L11.77 -3.25L10.90 -2.30L9.94 -1.48L8.91 -0.82L7.83 -0.32L6.73 -0.01L5.65 0.11L4.59 0.04L3.60 -0.22L2.70 -0.66L1.91 -1.28L1.24 -2.05L0.72 -2.97L0.35 -4.00L0.15 -5.12L0.12 -6.31L0.27 -7.53L0.58 -8.75L1.05 -9.95L1.67 -11.09L2.43 -12.15L3.30 -13.10L4.26 -13.92L5.29 -14.58L6.37 -15.08L7.47 -15.39L8.55 -15.51L9.61 -15.44L10.60 -15.18L11.50 -14.74L12.29 -14.12L12.96 -13.35L13.48 -12.43L13.85 -11.40L14.05 -10.28L14.08 -9.09L13.93 -7.87L13.62 -6.65L13.15 -5.45ZM11.32 -5.42L11.86 -6.39L12.29 -7.39L12.61 -8.41L12.80 -9.41L12.86 -10.37L12.79 -11.27L12.58 -12.08L12.26 -12.79L11.81 -13.37L11.26 -13.82L10.62 -14.12L9.90 -14.26L9.12 -14.25L8.30 -14.07L7.46 -13.74L6.62 -13.27L5.81 -12.66L5.03 -11.93L4.32 -11.10L3.68 -10.18L3.14 -9.21L2.71 -8.21L2.39 -7.19L2.20 -6.19L2.14 -5.23L2.21 -4.33L2.42 -3.52L2.74 -2.81L3.19 -2.23L3.74 -1.78L4.38 -1.48L5.10 -1.34L5.88 -1.35L6.70 -1.53L7.54 -1.86L8.38 -2.33L9.19 -2.94L9.97 -3.67L10.68 -4.50ZM7.6 -15.5L20.8 -15.5L20.6 -13.4L11.5 -13.4L7.6 -13.6Z" fill="#000" fill-rule="nonzero" stroke="#000" stroke-width="0.4"/>
<text transform="translate(729.27,55.1) scale(0.9882,1.0057)" font-size="33.6">Γ</text>
<path transform="translate(748.9,60.7) scale(0.7000)" d="M12.53 -4.31L11.77 -3.25L10.90 -2.30L9.94 -1.48L8.91 -0.82L7.83 -0.32L6.73 -0.01L5.65 0.11L4.59 0.04L3.60 -0.22L2.70 -0.66L1.91 -1.28L1.24 -2.05L0.72 -2.97L0.35 -4.00L0.15 -5.12L0.12 -6.31L0.27 -7.53L0.58 -8.75L1.05 -9.95L1.67 -11.09L2.43 -12.15L3.30 -13.10L4.26 -13.92L5.29 -14.58L6.37 -15.08L7.47 -15.39L8.55 -15.51L9.61 -15.44L10.60 -15.18L11.50 -14.74L12.29 -14.12L12.96 -13.35L13.48 -12.43L13.85 -11.40L14.05 -10.28L14.08 -9.09L13.93 -7.87L13.62 -6.65L13.15 -5.45ZM11.32 -5.42L11.86 -6.39L12.29 -7.39L12.61 -8.41L12.80 -9.41L12.86 -10.37L12.79 -11.27L12.58 -12.08L12.26 -12.79L11.81 -13.37L11.26 -13.82L10.62 -14.12L9.90 -14.26L9.12 -14.25L8.30 -14.07L7.46 -13.74L6.62 -13.27L5.81 -12.66L5.03 -11.93L4.32 -11.10L3.68 -10.18L3.14 -9.21L2.71 -8.21L2.39 -7.19L2.20 -6.19L2.14 -5.23L2.21 -4.33L2.42 -3.52L2.74 -2.81L3.19 -2.23L3.74 -1.78L4.38 -1.48L5.10 -1.34L5.88 -1.35L6.70 -1.53L7.54 -1.86L8.38 -2.33L9.19 -2.94L9.97 -3.67L10.68 -4.50ZM7.6 -15.5L20.8 -15.5L20.6 -13.4L11.5 -13.4L7.6 -13.6Z" fill="#000" fill-rule="nonzero" stroke="#000" stroke-width="0.4"/>
<text transform="translate(764.14,45.51) scale(1.0639,1.1017)" font-size="23.6" stroke-width="0.06">−</text>
<text transform="translate(779.65,42.9) scale(0.7459,1.0080)" font-size="23.6" stroke-width="0.06">1</text>
</g>
<g id="leg2">
<text transform="translate(658.48,126.33) scale(1.0108,0.9593)" font-size="33.6" font-style="italic">w</text>
<text transform="translate(707.88,128.72) scale(1.0857,0.9762)" font-size="33.6" style="stroke:#000;stroke-width:0.3px">=</text>
<text transform="translate(679.4,131.92) scale(1.1861,0.8864)" font-size="23.6" font-style="italic" stroke-width="0.06">μ</text>
<path transform="translate(692.9,132.1) scale(0.6900)" d="M12.53 -4.31L11.77 -3.25L10.90 -2.30L9.94 -1.48L8.91 -0.82L7.83 -0.32L6.73 -0.01L5.65 0.11L4.59 0.04L3.60 -0.22L2.70 -0.66L1.91 -1.28L1.24 -2.05L0.72 -2.97L0.35 -4.00L0.15 -5.12L0.12 -6.31L0.27 -7.53L0.58 -8.75L1.05 -9.95L1.67 -11.09L2.43 -12.15L3.30 -13.10L4.26 -13.92L5.29 -14.58L6.37 -15.08L7.47 -15.39L8.55 -15.51L9.61 -15.44L10.60 -15.18L11.50 -14.74L12.29 -14.12L12.96 -13.35L13.48 -12.43L13.85 -11.40L14.05 -10.28L14.08 -9.09L13.93 -7.87L13.62 -6.65L13.15 -5.45ZM11.32 -5.42L11.86 -6.39L12.29 -7.39L12.61 -8.41L12.80 -9.41L12.86 -10.37L12.79 -11.27L12.58 -12.08L12.26 -12.79L11.81 -13.37L11.26 -13.82L10.62 -14.12L9.90 -14.26L9.12 -14.25L8.30 -14.07L7.46 -13.74L6.62 -13.27L5.81 -12.66L5.03 -11.93L4.32 -11.10L3.68 -10.18L3.14 -9.21L2.71 -8.21L2.39 -7.19L2.20 -6.19L2.14 -5.23L2.21 -4.33L2.42 -3.52L2.74 -2.81L3.19 -2.23L3.74 -1.78L4.38 -1.48L5.10 -1.34L5.88 -1.35L6.70 -1.53L7.54 -1.86L8.38 -2.33L9.19 -2.94L9.97 -3.67L10.68 -4.50ZM7.6 -15.5L20.8 -15.5L20.6 -13.4L11.5 -13.4L7.6 -13.6Z" fill="#000" fill-rule="nonzero" stroke="#000" stroke-width="0.4"/>
<g id="scriptA" transform="translate(728.6,104)" fill="none" stroke="#000" stroke-linecap="round" stroke-linejoin="round"><path d="M1.3 18.7C1 21 2.6 22.6 4.8 22.4C7.5 22.2 10.5 19.5 13.5 15C16.5 10.5 19.5 6 22.5 2.9C23.8 1.6 25.5 1 27 0.9" stroke-width="1.5"/><path d="M6.2 8.6C5.6 6.8 6.8 4.6 9.4 3.2C13 1.3 19 0.7 25.5 0.8" stroke-width="1.3"/><path d="M10.9 12.7L23.2 12.7" stroke-width="1.2"/><path d="M24.55 2.1L28.1 0.5C27.6 6 27 14 26.6 19.6C26.5 20.6 27 20.9 28.1 20.4L28.3 21.1C26.8 22.5 25.2 22.9 23.8 22.4C22.9 21.9 22.8 20 23.05 17C23.45 12 24.05 7 24.55 2.1Z" fill="#000" stroke="none"/></g>
<text transform="translate(757.82,117.01) scale(1.0821,1.1017)" font-size="23.6" stroke-width="0.06">−</text>
<text transform="translate(773.19,114.8) scale(0.7554,1.0208)" font-size="23.6" stroke-width="0.06">1</text>
</g>
<g id="leg3">
<text transform="translate(658.48,197.43) scale(1.0108,0.9593)" font-size="33.6" font-style="italic">w</text>
<text transform="translate(705.39,199.82) scale(1.0793,0.9762)" font-size="33.6" style="stroke:#000;stroke-width:0.3px">=</text>
<text transform="translate(681.86,202.6) scale(0.7601,1.0272)" font-size="23.6" stroke-width="0.06">1</text>
<text transform="translate(692.57,202.66) scale(1.0324,1.0292)" font-size="23.6" font-style="italic" stroke-width="0.06">d</text>
<text transform="translate(724.6,198) skewX(-6) scale(1.05,1.03)" font-size="33.6" font-style="italic">J</text>
<text transform="translate(742.26,202.5) scale(0.7601,1.0272)" font-size="23.6" stroke-width="0.06">1</text>
<text transform="translate(752.69,202.85) scale(1.1401,1.0533)" font-size="23.6" font-style="italic" stroke-width="0.06">d</text>
<text transform="translate(766.03,188.01) scale(1.0730,1.1017)" font-size="23.6" stroke-width="0.06">−</text>
<text transform="translate(781.39,185.7) scale(0.7886,1.0657)" font-size="23.6" stroke-width="0.06">1</text>
</g>
</svg></body></html>
